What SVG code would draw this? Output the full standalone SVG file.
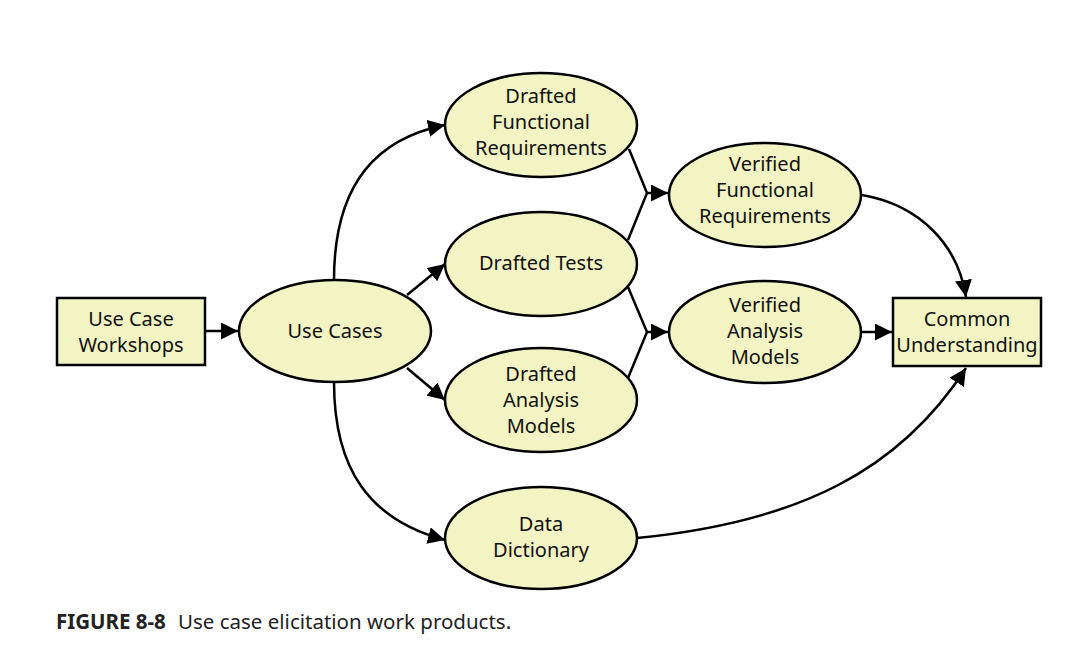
<svg xmlns="http://www.w3.org/2000/svg" width="1092" height="658" viewBox="0 0 1092 658">
<defs>
<marker id="arr" viewBox="0 0 10 10" refX="10" refY="5" markerWidth="17" markerHeight="17" markerUnits="userSpaceOnUse" orient="auto">
<path d="M0,0 L10,5 L0,10 z" fill="#000"/>
</marker>
<style>
.n{fill:#f3f4c4;stroke:#000;stroke-width:2.5}
.t{font-family:"Noto Sans","Open Sans",sans-serif;font-size:20px;fill:#111;text-anchor:middle}
.c{fill:none;stroke:#000;stroke-width:2.5}
.a{marker-end:url(#arr)}
.cap{font-family:"Noto Sans","Open Sans",sans-serif;font-size:20.5px;fill:#222}
</style>
</defs>
<rect width="1092" height="658" fill="#fff"/>
<g id="connectors">
<path class="c a" d="M206,331 L238,331"/>
<path class="c a" d="M334,280 C334,180 380,138 445,125"/>
<path class="c a" d="M407,295 L445,264"/>
<path class="c a" d="M407,368 L445,400"/>
<path class="c a" d="M334,382 C334,470 370,520 445,540"/>
<path class="c" d="M629,149 L647,193 L628,240"/>
<path class="c a" d="M647,193 L668,193"/>
<path class="c" d="M628,287 L647,332 L628,378"/>
<path class="c a" d="M647,332 L668,332"/>
<path class="c a" d="M862,195 C920,205 958,245 966,297"/>
<path class="c a" d="M862,332 L892,332"/>
<path class="c a" d="M637,538 C800,522 900,470 966,368"/>
</g>
<g id="use-case-workshops">
<rect class="n" x="57" y="298" width="148" height="67"/>
<text class="t" x="131" y="326">Use Case</text>
<text class="t" x="131" y="352">Workshops</text>
</g>
<g id="use-cases">
<ellipse class="n" cx="335" cy="331" rx="96" ry="51"/>
<text class="t" x="335" y="338">Use Cases</text>
</g>
<g id="drafted-functional-requirements">
<ellipse class="n" cx="541" cy="125" rx="96" ry="52"/>
<text class="t" x="541" y="103">Drafted</text>
<text class="t" x="541" y="129">Functional</text>
<text class="t" x="541" y="155">Requirements</text>
</g>
<g id="drafted-tests">
<ellipse class="n" cx="541" cy="264" rx="96" ry="52"/>
<text class="t" x="541" y="270">Drafted Tests</text>
</g>
<g id="drafted-analysis-models">
<ellipse class="n" cx="541" cy="400" rx="96" ry="52"/>
<text class="t" x="541" y="381">Drafted</text>
<text class="t" x="541" y="407">Analysis</text>
<text class="t" x="541" y="433">Models</text>
</g>
<g id="data-dictionary">
<ellipse class="n" cx="541" cy="538" rx="96" ry="51"/>
<text class="t" x="541" y="531">Data</text>
<text class="t" x="541" y="557">Dictionary</text>
</g>
<g id="verified-functional-requirements">
<ellipse class="n" cx="765" cy="195" rx="96" ry="52"/>
<text class="t" x="765" y="171">Verified</text>
<text class="t" x="765" y="197">Functional</text>
<text class="t" x="765" y="223">Requirements</text>
</g>
<g id="verified-analysis-models">
<ellipse class="n" cx="765" cy="332" rx="96" ry="51"/>
<text class="t" x="765" y="312">Verified</text>
<text class="t" x="765" y="338">Analysis</text>
<text class="t" x="765" y="364">Models</text>
</g>
<g id="common-understanding">
<rect class="n" x="893" y="298" width="148" height="68"/>
<text class="t" x="967" y="326">Common</text>
<text class="t" x="967" y="352">Understanding</text>
</g>
<text class="cap" x="56" y="629"><tspan font-weight="bold">FIGURE 8-8</tspan><tspan x="178">Use case elicitation work products.</tspan></text>
</svg>
